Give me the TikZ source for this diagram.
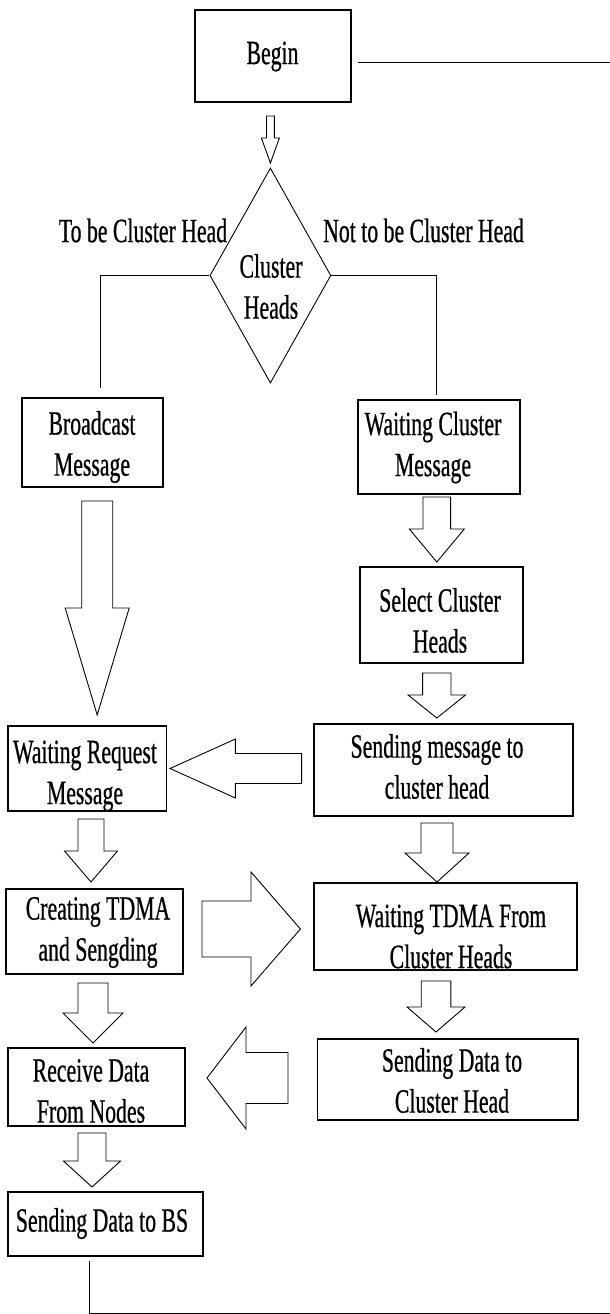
\documentclass[tikz,border=0pt]{standalone}
\usepackage{fontspec}
\setmainfont{Liberation Serif}[FakeStretch=0.64,FakeBold=0.6]
\usetikzlibrary{shapes.geometric}

% hollow block arrows: centre, start, shaft half-width, head half-width, head base, tip
\newcommand\blkdown[6]{\draw[blk] (#1-#3,#2) -- (#1+#3,#2) -- (#1+#3,#5) -- (#1+#4,#5) -- (#1,#6) -- (#1-#4,#5) -- (#1-#3,#5) -- cycle;}
\newcommand\blkhoriz[6]{\draw[blk] (#2,#1-#3) -- (#2,#1+#3) -- (#5,#1+#3) -- (#5,#1+#4) -- (#6,#1) -- (#5,#1-#4) -- (#5,#1-#3) -- cycle;}

\begin{document}
\begin{tikzpicture}[x=1pt,y=-1pt,
  box/.style={draw, line width=1.2pt, inner sep=0pt},
  txt/.style={font=\fontsize{34}{41}\selectfont, align=center, inner sep=0pt},
  blk/.style={draw, line width=0.9pt, fill=white, line join=miter},
  conn/.style={draw, line width=0.9pt}]

\fill[white] (0,0) rectangle (610,1314);
\useasboundingbox (0,0) rectangle (610,1314);

% process boxes
\node[box, minimum width=156pt, minimum height=92pt] (begin) at (273,56) {};
\node[shape=diamond, draw, line width=0.9pt, inner sep=0pt, minimum width=121pt, minimum height=215pt] (dia) at (270.4,275.5) {};
\node[box, minimum width=141pt, minimum height=89pt] (bcast) at (92.5,442.5) {};
\node[box, minimum width=162pt, minimum height=94pt] (wcm) at (439,447) {};
\node[box, minimum width=163pt, minimum height=96pt] (sel) at (441.5,615) {};
\node[box, minimum width=158.5pt, minimum height=85pt] (wreq) at (87.25,768.5) {};
\node[box, minimum width=259pt, minimum height=92pt] (smsg) at (443.5,770) {};
\node[box, minimum width=177pt, minimum height=85pt] (ctdma) at (94.5,931.5) {};
\node[box, minimum width=263pt, minimum height=87pt] (wtdma) at (445.5,926.5) {};
\node[box, minimum width=177pt, minimum height=78pt] (recv) at (96.5,1087) {};
\node[box, minimum width=260.5pt, minimum height=81pt] (sdch) at (447.75,1079.5) {};
\node[box, minimum width=195pt, minimum height=64pt] (sbs) at (105.5,1224) {};

% texts
\node[txt] (tbegin) at (272.5,56.5) {Begin};
\node[txt] (tdia) at (271,286.5) {Cluster\\Heads};
\node[txt] (tyes) at (143,230.5) {To be Cluster Head};
\node[txt] (tno) at (423.5,230.5) {Not to be Cluster Head};
\node[txt] (tbcast) at (92,447) {Broadcast\\Message};
\node[txt] (twcm) at (433,447.5) {Waiting Cluster\\Message};
\node[txt] (tsel) at (440,620.5) {Select Cluster\\Heads};
\node[txt] (twreq) at (85,776) {Waiting Request\\Message};
\node[txt] (tsmsg) at (437,766.5) {Sending message to\\cluster head};
\node[txt] (tctdma) at (98,932.5) {Creating TDMA\\and Sengding};
\node[txt] (twtdma) at (451,936.5) {Waiting TDMA From\\Cluster Heads};
\node[txt] (trecv) at (91,1091) {Receive Data\\From Nodes};
\node[txt] (tsdch) at (452,1080.5) {Sending Data to\\Cluster Head};
\node[txt] (tsbs) at (102,1223.5) {Sending Data to BS};

% branch lines from the decision
\coordinate (bcastin) at (100,388);
\coordinate (wcmin) at (436.6,395);
\draw[conn] (dia.west) -| (bcastin);
\draw[conn] (dia.east) -| (wcmin);

% return loop along the right edge
\coordinate (loopstart) at (358,62);
\coordinate (loopend) at (610,62);
\draw[conn] (loopstart) -- (loopend);
\coordinate (sbsout) at (89,1261);
\coordinate (loopcorner) at (89,1313);
\coordinate (loopright) at (610,1313);
\draw[conn] (sbsout) -- (loopcorner) -- (loopright);

% block arrows
\blkdown{270.4}{116}{3.9}{9}{138}{163}
\blkdown{97.2}{501}{15.5}{32}{608}{715}
\blkdown{436.8}{497}{13.8}{27.5}{529}{562}
\blkdown{436.8}{673}{14.2}{28.7}{695}{718}
\blkdown{91}{819}{13}{26.5}{851}{882}
\blkdown{437}{823}{16}{32}{853}{882}
\blkdown{93}{983}{15}{30}{1013}{1043}
\blkdown{436}{981}{14.8}{29}{1007}{1032}
\blkdown{92}{1133}{14}{28.5}{1161}{1187}
\blkhoriz{768.5}{301.6}{15}{29.5}{235.4}{170}
\blkhoriz{1078}{288}{25.5}{51}{246}{207}
\blkhoriz{929}{202}{28}{57}{251}{300.4}
\end{tikzpicture}
\end{document}
